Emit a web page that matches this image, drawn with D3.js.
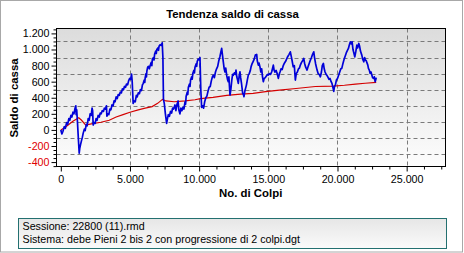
<!DOCTYPE html>
<html><head><meta charset="utf-8">
<script src="https://cdn.jsdelivr.net/npm/d3@7"></script>
<style>
html,body{margin:0;padding:0;background:#fff;}
svg{display:block;font-family:"Liberation Sans",Arial,sans-serif;}
</style></head>
<body>
<svg id="c" width="464" height="253"></svg>
<script>
// ---- data ----
const title = "Tendenza saldo di cassa";
const xLabel = "No. di Colpi";
const yLabel = "Saldo di cassa";
const infoLines = ["Sessione: 22800 (11).rmd", "Sistema: debe Pieni 2 bis 2 con progressione di 2 colpi.dgt"];
const xTicks = [0, 5000, 10000, 15000, 20000, 25000];
const yTicks = [-400, -200, 0, 200, 400, 600, 800, 1000, 1200];
const yGrid = [-300, -100, 100, 300, 500, 700, 900, 1100];
const xGrid = [5000, 10000, 15000, 20000, 25000];

const balanceX = [0,80,150,250,330,420,500,580,650,730,800,880,950,1030,1085,1110,1150,1200,1260,1330,1370,1430,1500,1560,1620,1700,1760,1840,1900,1980,2050,2120,2200,2260,2300,2340,2400,2480,2550,2620,2700,2780,2850,2920,3000,3080,3150,3230,3300,3330,3400,3470,3550,3620,3700,3780,3850,3920,4000,4080,4150,4230,4300,4380,4450,4530,4600,4680,4750,4830,4900,4980,5050,5115,5160,5230,5300,5380,5460,5520,5600,5680,5750,5830,5900,5960,6030,6070,6100,6160,6190,6220,6280,6340,6400,6460,6540,6580,6620,6700,6740,6780,6860,6900,6940,7020,7060,7100,7180,7250,7330,7380,7420,7480,7560,7650,7700,7770,7850,7930,8010,8080,8150,8250,8320,8400,8480,8530,8610,8680,8750,8830,8900,8980,9020,9060,9140,9180,9220,9300,9340,9380,9460,9500,9540,9620,9660,9700,9780,9820,9860,9930,10000,10060,10120,10180,10250,10320,10400,10480,10560,10640,10720,10800,10880,10960,11020,11100,11180,11260,11340,11420,11500,11560,11628,11680,11744,11810,11867,11920,11990,12060,12106,12150,12229,12290,12360,12420,12468,12550,12620,12663,12720,12780,12830,12900,12952,13000,13060,13148,13200,13240,13300,13360,13420,13480,13553,13620,13700,13760,13820,13900,13980,14060,14160,14200,14277,14330,14400,14460,14520,14580,14638,14700,14780,14860,14940,15000,15080,15160,15246,15300,15362,15420,15480,15560,15640,15724,15800,15850,15920,16000,16080,16160,16240,16320,16400,16500,16592,16650,16720,16800,16880,16953,17020,17100,17180,17250,17315,17400,17480,17561,17620,17700,17800,17880,17960,18040,18120,18200,18285,18340,18420,18524,18600,18680,18763,18840,18900,18980,19040,19100,19180,19226,19300,19380,19460,19540,19600,19680,19730,19780,19850,19920,20000,20080,20160,20240,20311,20400,20480,20560,20640,20720,20789,20860,20930,21000,21056,21120,21180,21250,21320,21400,21460,21540,21600,21660,21758,21820,21900,21960,22020,22080,22140,22192,22236,22300,22358,22420,22482,22540,22598,22660,22720,22760,22800];
const balanceY = [0,-50,-20,40,20,90,70,140,120,180,160,220,200,270,300,190,250,110,-80,-290,-230,-180,-130,-90,-40,10,-10,70,50,140,120,200,180,270,240,60,90,80,140,120,180,160,210,200,240,230,270,260,300,170,200,190,260,250,310,300,360,350,410,390,440,430,470,460,510,500,540,530,570,560,610,640,630,694,600,330,360,350,430,410,460,450,500,490,560,580,620,590,650,700,660,730,780,790,760,800,840,800,880,900,870,940,980,950,1000,1020,990,1040,1060,1050,1083,900,380,330,200,80,130,190,170,230,210,270,260,310,240,320,360,250,200,270,240,280,260,350,320,420,470,440,530,570,540,620,660,630,700,740,710,780,820,790,850,880,870,900,500,280,300,270,350,400,420,480,530,540,610,660,680,650,720,760,790,860,910,960,1013,940,850,760,720,770,680,620,600,660,434,500,620,690,680,710,690,744,660,620,579,680,723,650,580,455,440,413,480,520,560,620,682,700,740,790,820,850,880,930,939,860,806,830,780,720,760,660,600,640,650,670,690,682,700,690,723,760,806,740,720,740,700,641,700,723,760,750,800,830,850,880,910,940,971,920,860,785,800,620,700,720,760,770,806,840,860,889,830,780,744,790,830,868,900,940,971,900,820,744,700,690,661,720,800,827,760,720,690,682,660,630,640,600,579,520,480,537,560,620,640,680,720,760,765,830,880,920,960,990,1013,1060,1095,1070,1095,1000,960,909,970,1054,1020,1075,1040,980,930,880,847,900,868,860,830,806,765,744,703,720,682,650,641,660,600,620,650];

const avgX = [0,300,600,900,1300,1500,1800,2200,2900,3500,4000,4500,5000,5600,6100,6600,7000,7350,7600,8200,9000,9700,10100,11000,12000,13000,13900,14800,15800,17000,18400,19700,20500,21300,22000,22800];
const avgY = [0,30,70,110,150,120,60,75,95,120,160,190,220,250,270,290,330,380,360,350,360,375,390,405,430,445,455,475,495,515,540,545,555,570,580,590];

// ---- layout ----
const svg = d3.select("#c");
const P = {l: 56.5, t: 28.5, r: 445.5, b: 166.5};
const x = d3.scaleLinear().domain([-311, 27807]).range([P.l, P.r]);
const y = d3.scaleLinear().domain([-455, 1261]).range([P.b, P.t]);
const loc = d3.formatLocale({decimal: ",", thousands: ".", grouping: [3], currency: ["", ""], minus: "-"});
const fmt = loc.format(",d");
const FS = "10.7px";

const defs = svg.append("defs");
const g1 = defs.append("linearGradient").attr("id", "bg").attr("x1", 0).attr("y1", 0).attr("x2", 0).attr("y2", 1);
g1.append("stop").attr("offset", "0").attr("stop-color", "#dcdcdc");
g1.append("stop").attr("offset", "1").attr("stop-color", "#fdfdfd");
const g2 = defs.append("linearGradient").attr("id", "bx").attr("x1", 0).attr("y1", 0).attr("x2", 0).attr("y2", 1);
g2.append("stop").attr("offset", "0").attr("stop-color", "#e6e6e6");
g2.append("stop").attr("offset", "1").attr("stop-color", "#fafafa");
defs.append("clipPath").attr("id", "clip").append("rect")
  .attr("x", P.l).attr("y", P.t).attr("width", P.r - P.l).attr("height", P.b - P.t);

// outer border
svg.append("rect").attr("x", 0.5).attr("y", 0.5).attr("width", 462).attr("height", 251.5)
  .attr("fill", "#fff").attr("stroke", "#a8a8a8");

// plot background
svg.append("rect").attr("x", P.l).attr("y", P.t).attr("width", P.r - P.l).attr("height", P.b - P.t)
  .attr("fill", "url(#bg)");

// grid
svg.append("g").selectAll("line").data(yGrid).join("line")
  .attr("x1", P.l).attr("x2", P.r)
  .attr("y1", d => Math.round(y(d)) + 0.5).attr("y2", d => Math.round(y(d)) + 0.5)
  .attr("stroke", "#7a7a7a").attr("stroke-dasharray", "4,3");
svg.append("g").selectAll("line").data(xGrid).join("line")
  .attr("y1", P.t).attr("y2", P.b)
  .attr("x1", d => Math.round(x(d)) + 0.5).attr("x2", d => Math.round(x(d)) + 0.5)
  .attr("stroke", "#7a7a7a").attr("stroke-dasharray", "4,3");

// series
const plot = svg.append("g").attr("clip-path", "url(#clip)");
const avgPts = avgX.map((d, i) => [d, avgY[i]]);
const balPts = balanceX.map((d, i) => [d, balanceY[i]]);
const line = d3.line().x(d => x(d[0])).y(d => y(d[1]));
plot.append("path").attr("d", line(avgPts)).attr("fill", "none")
  .attr("stroke", "#d40000").attr("stroke-width", 1.2);
plot.append("path").attr("d", line(balPts)).attr("fill", "none")
  .attr("stroke", "#0000d8").attr("stroke-width", 1.7).attr("stroke-linejoin", "round");

// frame
svg.append("rect").attr("x", P.l).attr("y", P.t).attr("width", P.r - P.l).attr("height", P.b - P.t)
  .attr("fill", "none").attr("stroke", "#000");

// y axis
const yAxis = d3.axisLeft(y).tickValues(yTicks).tickSize(5).tickPadding(2).tickFormat(fmt);
const yMinor = d3.range(-450, 1251, 50).filter(v => v % 200 !== 0);
const ya = svg.append("g").attr("transform", `translate(${P.l},0)`).call(yAxis);
ya.select(".domain").remove();
ya.selectAll("text").attr("font-size", FS).attr("font-family", "Liberation Sans, Arial, sans-serif")
  .attr("fill", d => d < 0 ? "#e00000" : "#000");
svg.append("g").attr("transform", `translate(${P.l},0)`)
  .call(d3.axisLeft(y).tickValues(yMinor).tickSize(3).tickFormat(""))
  .select(".domain").remove();

// x axis
const xAxis = d3.axisBottom(x).tickValues(xTicks).tickSize(5).tickPadding(4).tickFormat(fmt);
const xMinor = d3.range(1250, 27600, 1250).filter(v => v % 5000 !== 0);
const xa = svg.append("g").attr("transform", `translate(0,${P.b})`).call(xAxis);
xa.select(".domain").remove();
xa.selectAll("text").attr("font-size", FS).attr("font-family", "Liberation Sans, Arial, sans-serif").attr("fill", "#000");
svg.append("g").attr("transform", `translate(0,${P.b})`)
  .call(d3.axisBottom(x).tickValues(xMinor).tickSize(3).tickFormat(""))
  .select(".domain").remove();

// titles
svg.append("text").attr("x", 232.5).attr("y", 18).attr("text-anchor", "middle")
  .attr("font-size", "11.4px").attr("font-weight", "bold").text(title);
svg.append("text").attr("x", 250.7).attr("y", 196.5).attr("text-anchor", "middle")
  .attr("font-size", "11.4px").attr("font-weight", "bold").text(xLabel);
svg.append("text").attr("transform", "translate(17.5,98) rotate(-90)").attr("text-anchor", "middle")
  .attr("font-size", "11.4px").attr("font-weight", "bold").text(yLabel);

// info box
svg.append("rect").attr("x", 18.5).attr("y", 218.5).attr("width", 428).attr("height", 30)
  .attr("fill", "url(#bx)").attr("stroke", "#237070");
svg.append("g").selectAll("text").data(infoLines).join("text")
  .attr("x", 22.5).attr("y", (d, i) => 230 + i * 12.5)
  .attr("font-size", FS).attr("fill", "#000").text(d => d);
</script>
</body></html>
